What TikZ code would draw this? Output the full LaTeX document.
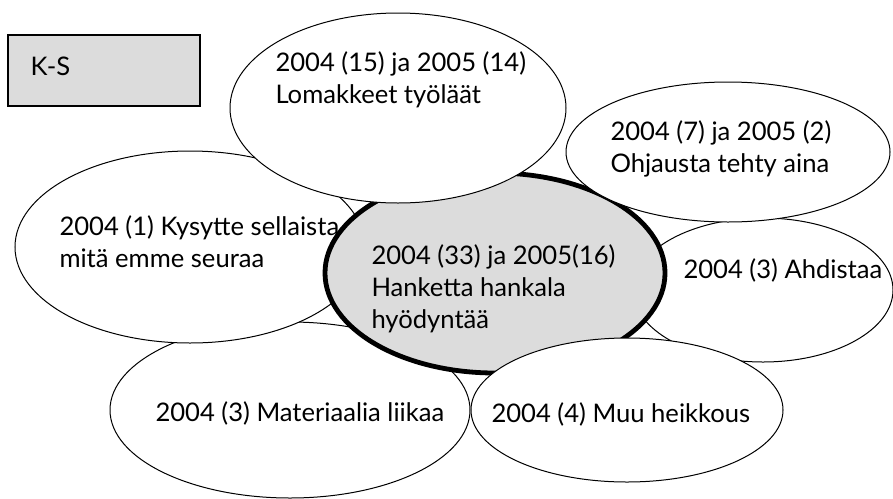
\documentclass[tikz,border=0pt]{standalone}
\usepackage{fontspec}
\setmainfont{Lato}
\usepackage{tikz}
\usetikzlibrary{positioning}
\definecolor{centreColor}{HTML}{DCDCDC}
\definecolor{boxColor}{HTML}{DCDCDC}

\begin{document}
\begin{tikzpicture}[x=1pt,y=-1pt,line width=1pt,
    every node/.style={anchor=base west,align=left,inner sep=0pt,
      font=\fontsize{25.6}{32}\selectfont}]
          \useasboundingbox (0,0) rectangle (893,498);
          \draw[fill=white] (290,410) ellipse (180 and 88);
          \draw[fill=white] (763,290) ellipse (130 and 72);
          \draw[fill=white] (190,247) ellipse (175 and 96);
          \draw[fill=centreColor, line width=4.8pt] (495,273) ellipse (170 and 100);
          \draw[fill=white] (398,108) ellipse (168 and 95);
          \draw[fill=white] (728,152) ellipse (162 and 70);
          \draw[fill=white] (627,410) ellipse (156 and 72);
          \draw[fill=boxColor, line width=2pt] (8,35) rectangle (200,106);

          % base of a node with two or three lines is its last line
          \node (ks) at (30,75) {K-S};
          \node (lomakkeet) at (275,103) {2004 (15) ja 2005 (14)\\Lomakkeet työläät};
          \node (ohjausta) at (610,172) {2004 (7) ja 2005 (2)\\Ohjausta tehty aina};
          \node (kysytte) at (59,267) {2004 (1) Kysytte sellaista\\mitä emme seuraa};
          \node (hanke) at (371,328) {2004 (33) ja 2005(16)\\Hanketta hankala\\hyödyntää};
          \node (ahdistaa) at (683,278) {2004 (3) Ahdistaa};
          \node (materiaali) at (155,421) {2004 (3) Materiaalia liikaa};
          \node (muu) at (491,422) {2004 (4) Muu heikkous};
        \end{tikzpicture}
\end{document}
